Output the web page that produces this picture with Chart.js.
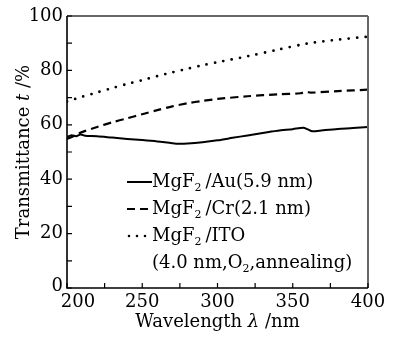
<!DOCTYPE html>
<html>
<head>
<meta charset="utf-8">
<script src="https://cdn.jsdelivr.net/npm/chart.js@4.4.1/dist/chart.umd.min.js"></script>
<style>
  html, body { margin: 0; padding: 0; background: #fff; }
  #wrap { width: 393px; height: 340px; }
</style>
</head>
<body>
<div id="wrap"><canvas id="grafica" width="393" height="340"></canvas></div>
<script>
// wavelengths (nm) and transmittance (%)
const auWave = [200, 203, 206, 209, 212, 220, 230, 240, 250, 260, 270, 275, 280, 290, 300, 310, 320, 330, 340, 350, 357, 360, 363, 370, 380, 390, 400];
const auTrans = [55.5, 56.2, 55.8, 56.4, 56.0, 55.8, 55.3, 54.8, 54.4, 53.9, 53.2, 53.0, 53.1, 53.6, 54.3, 55.2, 56.1, 57.0, 57.8, 58.4, 58.9, 58.3, 57.6, 58.0, 58.5, 58.8, 59.2];

const crWave = [200, 205, 210, 220, 230, 240, 250, 260, 270, 280, 290, 300, 320, 340, 355, 359, 362, 380, 400];
const crTrans = [54.8, 56.0, 57.3, 59.2, 60.9, 62.4, 63.9, 65.4, 66.8, 67.9, 68.8, 69.5, 70.5, 71.2, 71.6, 72.1, 71.8, 72.4, 72.9];

const itoWave = [200, 210, 220, 230, 240, 250, 260, 270, 280, 290, 300, 320, 340, 360, 380, 400];
const itoTrans = [68.6, 70.3, 71.9, 73.5, 75.0, 76.4, 77.9, 79.3, 80.6, 81.9, 83.0, 85.2, 87.6, 89.9, 91.3, 92.4];

const xTicks = [200, 250, 300, 350, 400];
const xMinor = [225, 275, 325, 375];
const yTicks = [0, 20, 40, 60, 80, 100];
const yMinor = [10, 30, 50, 70, 90];

const legendItems = [
    { text: '/Au(5.9 nm)', dash: [] },
    { text: '/Cr(2.1 nm)', dash: [8, 5] },
    { text: '/ITO', dash: [0, 8] }
];

const toPoints = (xs, ys) => xs.map((x, i) => ({ x: x, y: ys[i] }));

const FONT = '"DejaVu Serif", "Liberation Serif", serif';
const SZ = '18px ';

const decoraciones = {
    id: 'decoraciones',
    afterDraw(chart) {
        const ctx = chart.ctx;
        const xs = chart.scales.x;
        const ys = chart.scales.y;
        const a = chart.chartArea;
        ctx.save();

        // frame
        ctx.lineWidth = 1.5;
        ctx.strokeStyle = '#333';
        ctx.beginPath();
        ctx.moveTo(a.left, a.top); ctx.lineTo(a.right, a.top);
        ctx.stroke();
        ctx.strokeStyle = '#666';
        ctx.lineWidth = 2;
        ctx.beginPath();
        ctx.moveTo(a.right, a.top); ctx.lineTo(a.right, a.bottom);
        ctx.stroke();
        ctx.strokeStyle = '#000';
        ctx.lineWidth = 1.6;
        ctx.beginPath();
        ctx.moveTo(a.left, a.top); ctx.lineTo(a.left, a.bottom); ctx.lineTo(a.right, a.bottom);
        ctx.stroke();

        // inward ticks
        ctx.lineWidth = 1.2;
        ctx.beginPath();
        xTicks.concat(xMinor).forEach(v => {
            const px = xs.getPixelForValue(v);
            ctx.moveTo(px, a.bottom); ctx.lineTo(px, a.bottom - 5);
        });
        yTicks.concat(yMinor).forEach(v => {
            const py = ys.getPixelForValue(v);
            ctx.moveTo(a.left, py); ctx.lineTo(a.left + 5, py);
        });
        ctx.stroke();

        // tick labels
        ctx.fillStyle = '#000';
        ctx.font = SZ + FONT;
        ctx.textBaseline = 'middle';
        ctx.textAlign = 'right';
        yTicks.forEach(v => {
            const py = ys.getPixelForValue(v) - (v === 0 ? 2 : 0);
            ctx.fillText(String(v), a.left - 4, py);
        });
        ctx.textAlign = 'center';
        xTicks.forEach(v => {
            const px = xs.getPixelForValue(v) + (v === 200 ? 11 : 0);
            ctx.fillText(String(v), px, a.bottom + 14);
        });

        // x title
        const p1 = 'Wavelength ', p2 = 'λ', p3 = ' /nm';
        ctx.font = SZ + FONT;
        const w1 = ctx.measureText(p1).width, w3 = ctx.measureText(p3).width;
        ctx.font = 'italic ' + SZ + FONT;
        const w2 = ctx.measureText(p2).width;
        let sx = (a.left + a.right) / 2 - (w1 + w2 + w3) / 2;
        ctx.textAlign = 'left';
        ctx.font = SZ + FONT;
        ctx.fillText(p1, sx, 322);
        ctx.font = 'italic ' + SZ + FONT;
        ctx.fillText(p2, sx + w1, 322);
        ctx.font = SZ + FONT;
        ctx.fillText(p3, sx + w1 + w2, 322);

        // y title
        ctx.save();
        ctx.translate(24, (a.top + a.bottom) / 2);
        ctx.rotate(-Math.PI / 2);
        const q1 = 'Transmittance ', q2 = 't', q3 = ' /%';
        ctx.font = SZ + FONT;
        const v1 = ctx.measureText(q1).width, v3 = ctx.measureText(q3).width;
        ctx.font = 'italic ' + SZ + FONT;
        const v2 = ctx.measureText(q2).width;
        let sy = -(v1 + v2 + v3) / 2;
        ctx.font = SZ + FONT;
        ctx.fillText(q1, sy, 0);
        ctx.font = 'italic ' + SZ + FONT;
        ctx.fillText(q2, sy + v1, 0);
        ctx.font = SZ + FONT;
        ctx.fillText(q3, sy + v1 + v2, 0);
        ctx.restore();

        // legend
        const lx = 127, ly0 = 182, lstep = 27;
        legendItems.forEach((it, i) => {
            const y = ly0 + i * lstep;
            const dotted = it.dash.length && it.dash[0] === 0;
            ctx.strokeStyle = '#000';
            ctx.lineWidth = dotted ? 2.6 : 2;
            ctx.lineCap = dotted ? 'round' : 'butt';
            ctx.setLineDash(it.dash);
            ctx.beginPath();
            ctx.moveTo(lx + (dotted ? 2 : 0), y); ctx.lineTo(lx + 25, y);
            ctx.stroke();
            ctx.setLineDash([]);
            ctx.font = SZ + FONT;
            ctx.textAlign = 'left';
            let tx = lx + 25;
            ctx.fillText('MgF', tx, y);
            tx += ctx.measureText('MgF').width;
            ctx.font = '11px ' + FONT;
            ctx.fillText('2', tx, y + 6);
            tx += ctx.measureText('2').width + 4;
            ctx.font = SZ + FONT;
            ctx.fillText(it.text, tx, y);
        });
        // fourth legend line
        const y4 = ly0 + 3 * lstep;
        let tx = 152;
        ctx.font = SZ + FONT;
        ctx.fillText('(4.0 nm,O', tx, y4);
        tx += ctx.measureText('(4.0 nm,O').width;
        ctx.font = '11px ' + FONT;
        ctx.fillText('2', tx, y4 + 6);
        tx += ctx.measureText('2').width;
        ctx.font = SZ + FONT;
        ctx.fillText(',annealing)', tx, y4);

        ctx.restore();
    }
};

new Chart(document.getElementById('grafica').getContext('2d'), {
    type: 'line',
    data: {
        datasets: [{
            label: 'MgF2/Au(5.9 nm)',
            data: toPoints(auWave, auTrans),
            borderColor: '#000',
            borderWidth: 2,
            pointRadius: 0,
            tension: 0.3
        }, {
            label: 'MgF2/Cr(2.1 nm)',
            data: toPoints(crWave, crTrans),
            borderColor: '#000',
            borderWidth: 2.2,
            borderDash: [8, 5],
            pointRadius: 0,
            tension: 0.3
        }, {
            label: 'MgF2/ITO',
            data: toPoints(itoWave, itoTrans),
            borderColor: '#000',
            borderWidth: 2.8,
            borderDash: [0, 8.5],
            borderCapStyle: 'round',
            pointRadius: 0,
            tension: 0.3
        }]
    },
    options: {
        responsive: false,
        animation: false,
        layout: { padding: { left: 67, top: 16, right: 25, bottom: 52 } },
        plugins: { legend: { display: false }, tooltip: { enabled: false } },
        scales: {
            x: { type: 'linear', min: 200, max: 400, display: false },
            y: { min: 0, max: 100, display: false }
        }
    },
    plugins: [decoraciones]
});
</script>
</body>
</html>
